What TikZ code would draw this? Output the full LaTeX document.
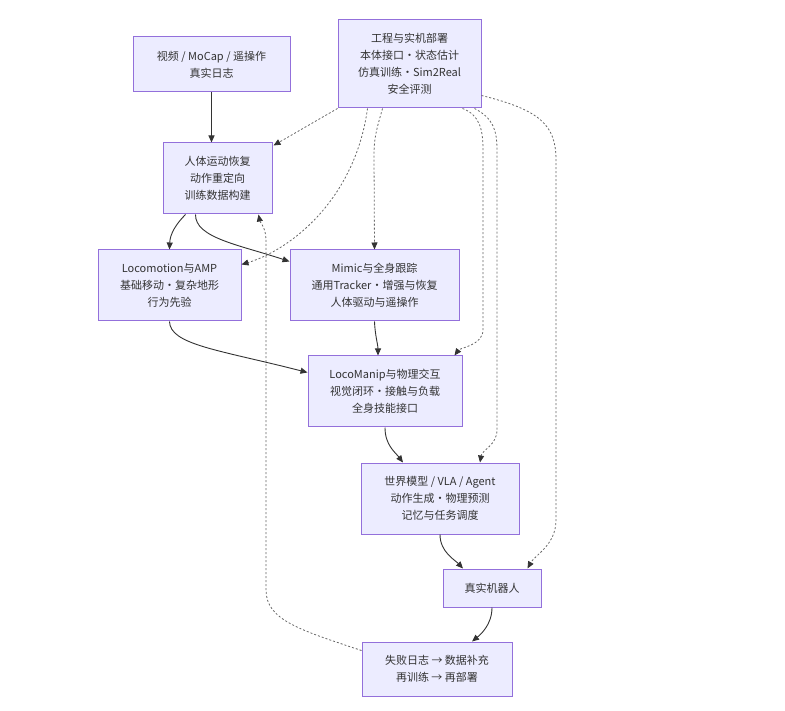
\documentclass[tikz,border=0pt]{standalone}
\usepackage{fontspec}
\setmainfont{Noto Sans CJK SC}
\usetikzlibrary{arrows.meta}
\definecolor{nodefill}{HTML}{ECECFF}
\definecolor{nodedraw}{HTML}{9370DB}
\definecolor{txt}{HTML}{333333}
\definecolor{edgecol}{HTML}{333333}
\tikzset{
  box/.style={draw=nodedraw, fill=nodefill, line width=1pt, align=center, inner sep=0pt,
    text=txt, font=\fontsize{11pt}{17pt}\selectfont},
  solidedge/.style={draw=edgecol, line width=0.9pt, -{Triangle[length=7pt,width=6pt]}},
  dotedge/.style={draw=edgecol!75, line width=0.8pt, dash pattern=on 2pt off 2pt,
    -{Triangle[length=7pt,width=6pt,color=edgecol]}},
}
\begin{document}
\begin{tikzpicture}[x=1pt,y=-1pt]
\useasboundingbox (0,0) rectangle (785,711);
\node[box, minimum width=157pt, minimum height=55pt] (A) at (211.5,64.5) {视频 / MoCap / 遥操作\\真实日志};
\node[box, minimum width=143pt, minimum height=88pt] (E) at (409.5,64) {工程与实机部署\\本体接口·状态估计\\仿真训练·Sim2Real\\安全评测};
\node[box, minimum width=109pt, minimum height=71pt] (B) at (217.5,178.5) {人体运动恢复\\动作重定向\\训练数据构建};
\node[box, minimum width=143pt, minimum height=71pt] (C) at (169.5,285.5) {Locomotion与AMP\\基础移动·复杂地形\\行为先验};
\node[box, minimum width=169pt, minimum height=71pt] (D) at (374.5,285.5) {Mimic与全身跟踪\\通用Tracker·增强与恢复\\人体驱动与遥操作};
\node[box, minimum width=154pt, minimum height=71pt] (F) at (385,391.5) {LocoManip与物理交互\\视觉闭环·接触与负载\\全身技能接口};
\node[box, minimum width=158pt, minimum height=71pt] (G) at (440,498.5) {世界模型 / VLA / Agent\\动作生成·物理预测\\记忆与任务调度};
\node[box, minimum width=98pt, minimum height=38pt] (H) at (492,588) {真实机器人};
\node[box, minimum width=150pt, minimum height=54pt] (I) at (437,669) {失败日志 → 数据补充\\再训练 → 再部署};

% solid edges
\draw[solidedge] (A.south) -- (A.south |- B.north);
\draw[solidedge] ([xshift=-32pt]B.south) .. controls (176,224) and (170,234) .. (C.north);
\draw[solidedge] ([xshift=-22pt]B.south) .. controls (195,238) and (240,245) .. ([yshift=-12pt]D.north west);
\draw[solidedge] (C.south) .. controls (170,345) and (220,350) .. ([yshift=-17pt]F.north west);
\draw[solidedge] (D.south) .. controls (375,335) and (378,345) .. ([xshift=-7pt]F.north);
\draw[solidedge] (F.south) .. controls (385,445) and (395,452) .. ([xshift=-37pt]G.north);
\draw[solidedge] (G.south) .. controls (440,552) and (455,560) .. ([xshift=-29pt]H.north);
\draw[solidedge] (H.south) .. controls (492,625) and (480,635) .. ([xshift=35pt]I.north);

% dotted edges
\draw[dotedge] (E.south west) -- ([xshift=1pt,yshift=-3pt]B.north east);
\draw[dotedge] ([xshift=30pt]E.south west) .. controls (355,200) and (290,250) .. ([yshift=-15pt]C.north east);
\draw[dotedge] ([xshift=45pt]E.south west) .. controls (378,125) and (374,135) .. (374,155) -- (D.north);
\draw[dotedge] ([xshift=125pt]E.south west) .. controls (480,115) and (483,130) .. (483,150) -- (483,330) .. controls (483,345) and (460,348) .. ([xshift=-8pt]F.north east);
\draw[dotedge] ([xshift=137pt]E.south west) .. controls (493,118) and (497,130) .. (497,150) -- (497,430) .. controls (497,445) and (482,450) .. ([xshift=40pt]G.north);
\draw[dotedge] ([yshift=13pt]E.south east) .. controls (540,110) and (556,125) .. (556,160) -- (556,520) .. controls (556,545) and (535,555) .. ([xshift=-14pt]H.north east);
\draw[dotedge] ([yshift=-9pt]I.north west) .. controls (300,630) and (266,620) .. (266,590) -- (266,240) .. controls (266,228) and (260,222) .. ([xshift=-14pt]B.south east);
\end{tikzpicture}
\end{document}
